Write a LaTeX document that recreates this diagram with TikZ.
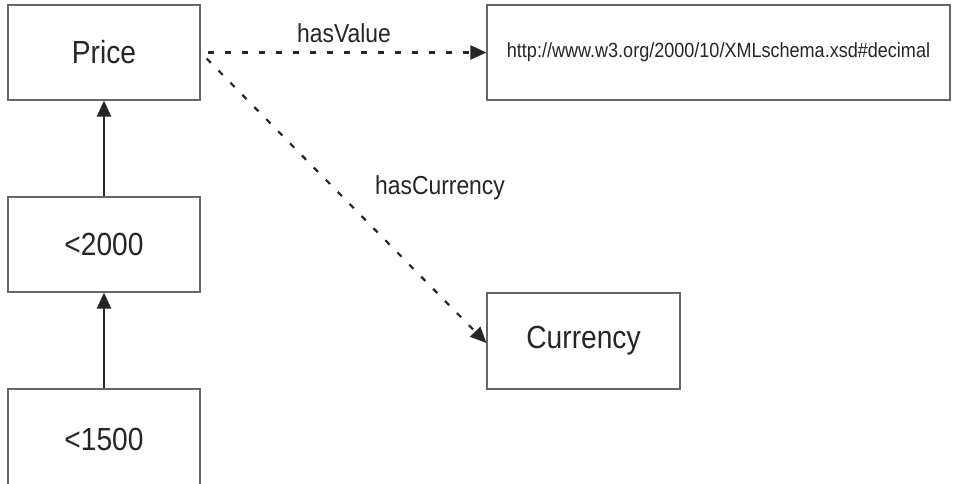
\documentclass[tikz,border=0pt]{standalone}
\usepackage{fontspec}
\setmainfont[FakeStretch=0.88]{Liberation Sans}
\usetikzlibrary{arrows.meta}
\begin{document}
\begin{tikzpicture}[x=1pt,y=-1pt,
  box/.style={draw=black!60,line width=1.2pt,rectangle,inner sep=0pt,text=black!85,
    font=\fontsize{32}{38}\selectfont},
  lbl/.style={text=black!85,font=\fontsize{26}{31}\selectfont},
  subarrow/.style={line width=2.2pt,draw=black!85,-{Triangle[length=16pt,width=14pt]}},
  relarrow/.style={line width=2.2pt,draw=black!85,dash pattern=on 6pt off 11pt,-{Triangle[length=16pt,width=14pt]}}]
\useasboundingbox (0,0) rectangle (953,484);
\fill[white] (0,0) rectangle (953,484);
\clip (0,0) rectangle (953,484);
\node[box,minimum width=192pt,minimum height=95pt] (price) at (104,52.5) {Price};
\node[box,minimum width=192pt,minimum height=95pt] (lt2000) at (104,244.5) {<2000};
\node[box,minimum width=192pt,minimum height=100pt] (lt1500) at (104,439) {<1500};
\node[box,minimum width=463pt,minimum height=95pt,font=\fontsize{20.5}{24}\selectfont] (url) at (718.5,52.5) {http://www.w3.org/2000/10/XMLschema.xsd\#decimal};
\node[box,minimum width=193pt,minimum height=96pt] (cur) at (583.5,341) {Currency};
\draw[subarrow] (lt2000.north) -- (price.south);
\draw[subarrow] (lt1500.north) -- (lt2000.south);
\draw[relarrow] ([xshift=7pt]price.east) -- (url.west);
\draw[relarrow] ([xshift=6pt,yshift=-6pt]price.east) -- ([yshift=-2pt]cur.west);
\node[lbl] (hv) at (344,33) {hasValue};
\node[lbl] (hc) at (440,188) {hasCurrency};
\end{tikzpicture}
\end{document}
